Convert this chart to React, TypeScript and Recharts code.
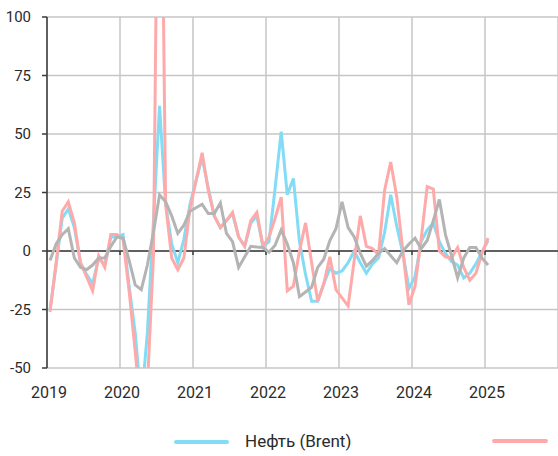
import React from 'react'
import { LineChart, Line, XAxis, YAxis, CartesianGrid, ReferenceLine } from 'recharts'

// monthly values, Jan 2019 .. Jan 2025, % 
const startYear = 2019
const yearTicks = [2019, 2020, 2021, 2022, 2023, 2024, 2025]
const valueTicks = [-50, -25, 0, 25, 50, 75, 100]

const brent = [
  -25, -6, 14, 18, 10, -5, -10, -14, -3, -6, 6, 6,
  7, -15, -35, -65, -35, 13, 62, 20, 3, -5, 5, 20,
  30, 40, 27, 15, 10, 13, 16, 6, 2, 12, 15, 2,
  4, 27, 51, 24, 31, 4, -10, -21.5, -21.5, -14, -7.5, -9.5,
  -8.5, -5, 0, -5, -9.5, -5.5, -3, 8, 24, 10.5, -1, -16,
  -11, 4, 9, 12, 4, -1, -4.5, -6, -11.5, -9.5, -5.5, -0.5,
  4.5,
]

const pinkSeries = [
  -26, -5, 17, 21, 12, -5, -11, -17, -2, -7, 7, 7,
  5, -17, -43, -70, -58, -2, 250, 20, -3, -8, -3, 18,
  30, 42, 26, 15, 10, 13, 16.5, 6, 2, 13, 16.5, 2,
  6, 14, 23, -17, -15, 0, 12, -5, -21.5, -14, -2.5, -16.5,
  -20, -23.5, -4, 15, 2, 1, -1.5, 26, 38, 23, 0, -23,
  -15, 5, 27.5, 26.5, 0, -2.5, -3, 1.5, -7, -12.5, -9.5, -1,
  5.5,
]

const graySeries = [
  -4, 3, 7, 9.5, -3, -7, -8, -6, -3, -3, 2, 6,
  5.5, -4, -14.5, -16.5, -6, 8, 24, 21, 15, 7.5, 11, 17,
  18.5, 20, 16, 16, 20.5, 7.5, 4, -7, -2.5, 2, 1.7, 1.5,
  -0.5, 2.5, 9, 3, -5, -19.5, -17.5, -15.5, -7, -3.5, 4.5, 9.5,
  21, 10, 6, -1, -6.5, -4, -1, 1, -2, -5, 0, 3,
  5.5, 1, 4.5, 13, 22, 7, -2, -11.5, -3, 1.5, 1.5, -3,
  -6,
]

const chartData = brent.map((v, i) => ({
  t: startYear + (i + 0.5) / 12,
  brent: v,
  pink: pinkSeries[i],
  gray: graySeries[i],
}))

const BLUE = '#82dcf5'
const PINK = '#ffaaaa'
const GRAY = '#b4b4b4'
const AXIS = '#3a3a3a'
const TEXT = '#2b2b2b'

export default function App() {
  return (
    <div style={{ position: 'absolute', left: 0, top: 0, width: 558, height: 456, fontFamily: 'Roboto, sans-serif' }}>
      <LineChart
        width={558}
        height={456}
        data={chartData}
        margin={{ top: 17, right: 0, left: 0, bottom: 58 }}
        style={{ fontFamily: 'Roboto, sans-serif' }}
      >
        <CartesianGrid stroke="#c6c6c6" strokeWidth={1.5} />
        <XAxis
          type="number"
          dataKey="t"
          domain={[2019, 2026]}
          ticks={yearTicks}
          allowDataOverflow
          axisLine={false}
          tickLine={false}
          tickSize={0}
          tickMargin={19}
          height={30}
          tick={{ fontSize: 16, fill: TEXT, dx: 2 }}
        />
        <YAxis
          domain={[-50, 100]}
          ticks={valueTicks}
          allowDataOverflow
          width={47}
          tickSize={5}
          tickMargin={11}
          axisLine={{ stroke: AXIS, strokeWidth: 1.5 }}
          tickLine={{ stroke: AXIS, strokeWidth: 1.5 }}
          tick={{ fontSize: 15, fill: TEXT }}
        />
        <ReferenceLine y={0} stroke={AXIS} strokeWidth={1.5} />
        {yearTicks.slice(1).map(yr => (
          <ReferenceLine
            key={yr}
            segment={[{ x: yr, y: 0 }, { x: yr, y: -1.7 }]}
            stroke={AXIS}
            strokeWidth={1.5}
          />
        ))}
        <Line type="linear" dataKey="brent" stroke={BLUE} strokeWidth={3} dot={false} isAnimationActive={false} />
        <Line type="linear" dataKey="pink" stroke={PINK} strokeWidth={3} dot={false} isAnimationActive={false} />
        <Line type="linear" dataKey="gray" stroke={GRAY} strokeWidth={3} dot={false} isAnimationActive={false} />
      </LineChart>

      {/* legend, the rest of it runs off the right edge */}
      <div style={{ position: 'absolute', left: 0, top: 0, width: 558, height: 456, overflow: 'hidden', pointerEvents: 'none' }}>
        <div style={{ position: 'absolute', left: 174, top: 440, width: 55, height: 4, borderRadius: 2, background: BLUE }} />
        <div style={{ position: 'absolute', left: 245, top: 431, fontSize: 17, lineHeight: '20px', color: TEXT, whiteSpace: 'nowrap' }}>
          Нефть (Brent)
        </div>
        <div style={{ position: 'absolute', left: 492, top: 439, width: 56, height: 4, borderRadius: 2, background: PINK }} />
      </div>
    </div>
  )
}
